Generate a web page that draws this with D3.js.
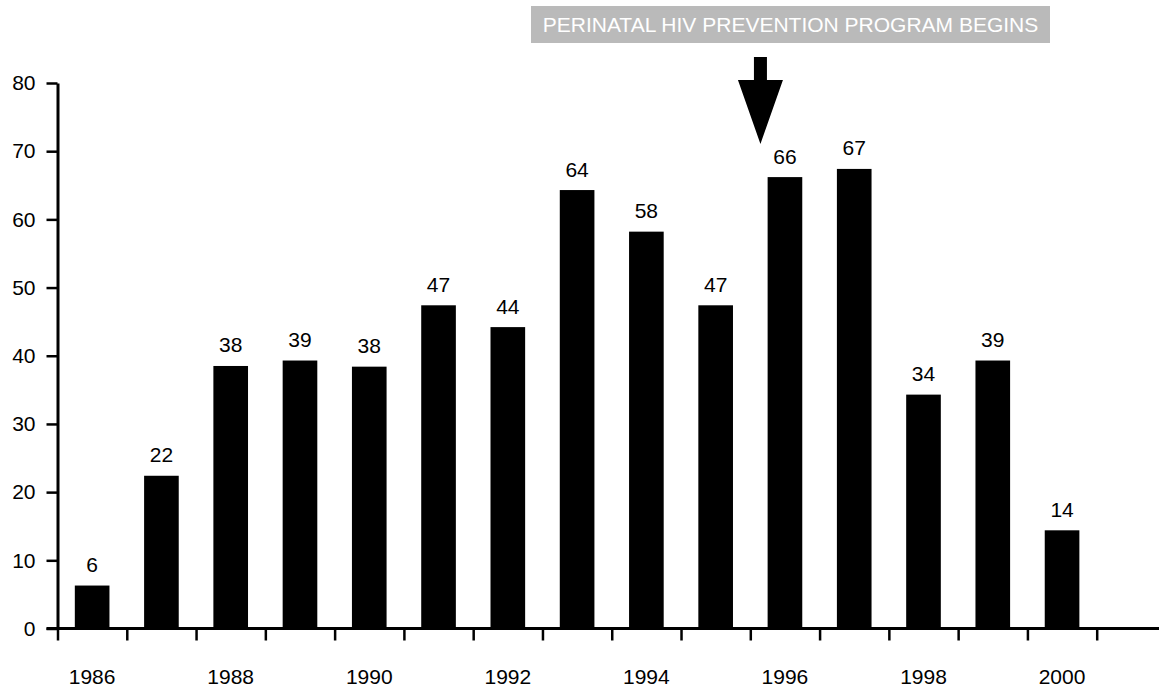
<!DOCTYPE html>
<html>
<head>
<meta charset="utf-8">
<script src="https://cdn.jsdelivr.net/npm/d3@7"></script>
<style>
  html, body { margin: 0; padding: 0; background: #ffffff; }
  svg { display: block; }
  text { font-family: "Liberation Sans", Arial, Helvetica, sans-serif; }
</style>
</head>
<body>
<svg id="chart" width="1159" height="687"></svg>
<script>
// ---- data ----
const years = [1986, 1987, 1988, 1989, 1990, 1991, 1992, 1993, 1994, 1995, 1996, 1997, 1998, 1999, 2000];
const values = [6.3, 22.4, 38.5, 39.3, 38.4, 47.4, 44.2, 64.3, 58.2, 47.4, 66.2, 67.4, 34.3, 39.3, 14.4];
const valueLabels = ["6", "22", "38", "39", "38", "47", "44", "64", "58", "47", "66", "67", "34", "39", "14"];
const xTickLabels = ["1986", "1988", "1990", "1992", "1994", "1996", "1998", "2000"];
const yTicks = [0, 10, 20, 30, 40, 50, 60, 70, 80];
const annotationText = "PERINATAL HIV PREVENTION PROGRAM BEGINS";
const annotationYear = "1996";

(function () {
  // ---- layout ----
  const W = 1159;
  const mLeft = 57.5, mRight = 1096.7, mTop = 83, mBottom = 628.5;
  const fontSize = 21;

  const svg = d3.select("#chart");

  const x = d3.scaleBand()
    .domain(years.map(String))
    .range([mLeft, mRight])
    .paddingInner(0.5)
    .paddingOuter(0.25);

  const y = d3.scaleLinear().domain([0, 80]).range([mBottom, mTop]);

  // bars
  svg.append("g").selectAll("rect")
    .data(years)
    .join("rect")
    .attr("x", (d) => x(String(d)))
    .attr("y", (d, i) => y(values[i]))
    .attr("width", x.bandwidth())
    .attr("height", (d, i) => y(0) - y(values[i]))
    .attr("fill", "#000");

  // value labels
  svg.append("g").selectAll("text")
    .data(years)
    .join("text")
    .attr("x", (d) => x(String(d)) + x.bandwidth() / 2)
    .attr("y", (d, i) => y(values[i]) - 13.5)
    .attr("text-anchor", "middle")
    .attr("font-size", fontSize)
    .attr("fill", "#000")
    .text((d, i) => valueLabels[i]);

  // y axis
  const yAxis = d3.axisLeft(y)
    .tickValues(yTicks)
    .tickSize(11)
    .tickPadding(11)
    .tickSizeOuter(0)
    .tickFormat(d3.format("d"));
  const gy = svg.append("g").attr("transform", `translate(${mLeft},0)`).call(yAxis);
  gy.select(".domain").attr("stroke", "#000").attr("stroke-width", 3);
  gy.selectAll(".tick line").attr("stroke", "#000").attr("stroke-width", 2.5);
  gy.selectAll(".tick text")
    .attr("font-size", fontSize)
    .attr("font-family", "'Liberation Sans', Arial, sans-serif")
    .attr("fill", "#000");

  // x axis: boundary ticks via a linear scale over band edges
  const xEdge = d3.scaleLinear()
    .domain([0, years.length])
    .range([mLeft, mRight]);
  const edges = d3.range(0, years.length + 1);
  const xAxis = d3.axisBottom(xEdge)
    .tickValues(edges)
    .tickSize(12)
    .tickSizeOuter(0)
    .tickFormat("");
  const gx = svg.append("g").attr("transform", `translate(0,${mBottom})`).call(xAxis);
  gx.select(".domain").remove();
  gx.selectAll(".tick line").attr("stroke", "#000").attr("stroke-width", 2.5);
  // axis baseline extends from left of y-axis to the right edge
  svg.append("line")
    .attr("x1", 46.5).attr("x2", W)
    .attr("y1", mBottom).attr("y2", mBottom)
    .attr("stroke", "#000").attr("stroke-width", 3);

  // x labels for even years
  svg.append("g").selectAll("text")
    .data(xTickLabels)
    .join("text")
    .attr("x", (d) => x(d) + x.bandwidth() / 2)
    .attr("y", 684)
    .attr("text-anchor", "middle")
    .attr("font-size", fontSize)
    .attr("fill", "#000")
    .text((d) => d);

  // annotation box
  const boxX = 531, boxY = 6, boxW = 519, boxH = 37;
  svg.append("rect")
    .attr("x", boxX).attr("y", boxY)
    .attr("width", boxW).attr("height", boxH)
    .attr("fill", "#bababa");
  svg.append("text")
    .attr("x", boxX + boxW / 2)
    .attr("y", boxY + boxH / 2 + 7.5)
    .attr("text-anchor", "middle")
    .attr("font-size", fontSize)
    .attr("fill", "#ffffff")
    .text(annotationText);

  // arrow pointing down near the 1996 bar
  const ax = x(annotationYear) + x.bandwidth() / 2 - 24.5;
  const shaftW = 13, headW = 45;
  const shaftTop = 57, headTop = 80, tipY = 144;
  svg.append("path")
    .attr("d", `M${ax - shaftW / 2},${shaftTop} L${ax + shaftW / 2},${shaftTop} L${ax + shaftW / 2},${headTop} L${ax + headW / 2},${headTop} L${ax},${tipY} L${ax - headW / 2},${headTop} L${ax - shaftW / 2},${headTop} Z`)
    .attr("fill", "#000");
})();
</script>
</body>
</html>
